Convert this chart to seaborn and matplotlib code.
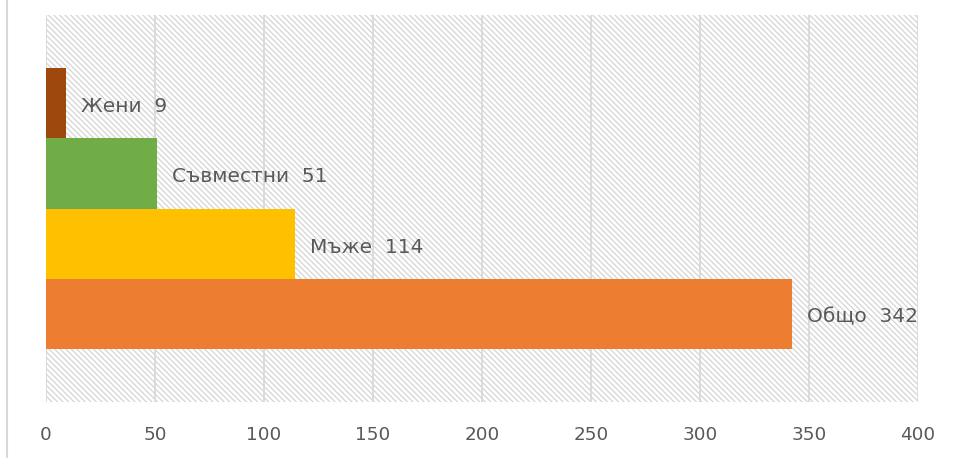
import matplotlib
matplotlib.use("Agg")
import matplotlib.pyplot as plt
import seaborn as sns
import pandas as pd
from matplotlib.patches import Rectangle
from matplotlib.lines import Line2D

categories = ["Жени", "Съвместни", "Мъже", "Общо"]
values = [9, 51, 114, 342]
colors = ["#9E480E", "#70AD47", "#FFC000", "#ED7D31"]
xticks = [0, 50, 100, 150, 200, 250, 300, 350, 400]

sns.set_theme(style="white")
plt.rcParams["font.family"] = ["DejaVu Sans"]
plt.rcParams["hatch.linewidth"] = 0.9

df = pd.DataFrame({"cat": categories, "val": values})

fig = plt.figure(figsize=(9.57, 4.58), dpi=100)
ax = fig.add_axes([46 / 957, 1 - 402 / 458, (918 - 46) / 957, (402 - 15) / 458])

# hatched background
bg = Rectangle((0, 0), 1, 1, transform=ax.transAxes, facecolor="white",
               edgecolor="#D4D4D4", hatch="\\" * 6, linewidth=0, zorder=0)
ax.add_patch(bg)

sns.barplot(data=df, y="cat", x="val", hue="cat", order=categories,
            hue_order=categories, palette=colors, width=1.0, orient="h",
            legend=False, ax=ax, zorder=3, linewidth=0, saturation=1)

ax.set_xlim(0, 400)
ax.set_ylim(3.5 + 0.754, -0.5 - 0.754)
ax.set_xticks(xticks)
ax.set_xticklabels([str(t) for t in xticks])
ax.set_yticks([])
ax.set_xlabel("")
ax.set_ylabel("")
ax.tick_params(axis="x", length=0, pad=17, labelsize=13.2, labelcolor="#595959")
ax.grid(axis="x", color="#D9D9D9", linewidth=1.3, zorder=1)
ax.set_axisbelow(True)
for s in ax.spines.values():
    s.set_visible(False)

for i, (c, v) in enumerate(zip(categories, values)):
    ax.annotate(f"{c}  {v}", xy=(v, i), xytext=(11, -2.5), textcoords="offset points",
                va="center", ha="left", fontsize=14.5, color="#595959", zorder=5)

fig.add_artist(Line2D([7 / 957, 7 / 957], [0, 1], transform=fig.transFigure,
                      color="#D9D9D9", linewidth=1.5))

fig.savefig("out.png", dpi=100)
